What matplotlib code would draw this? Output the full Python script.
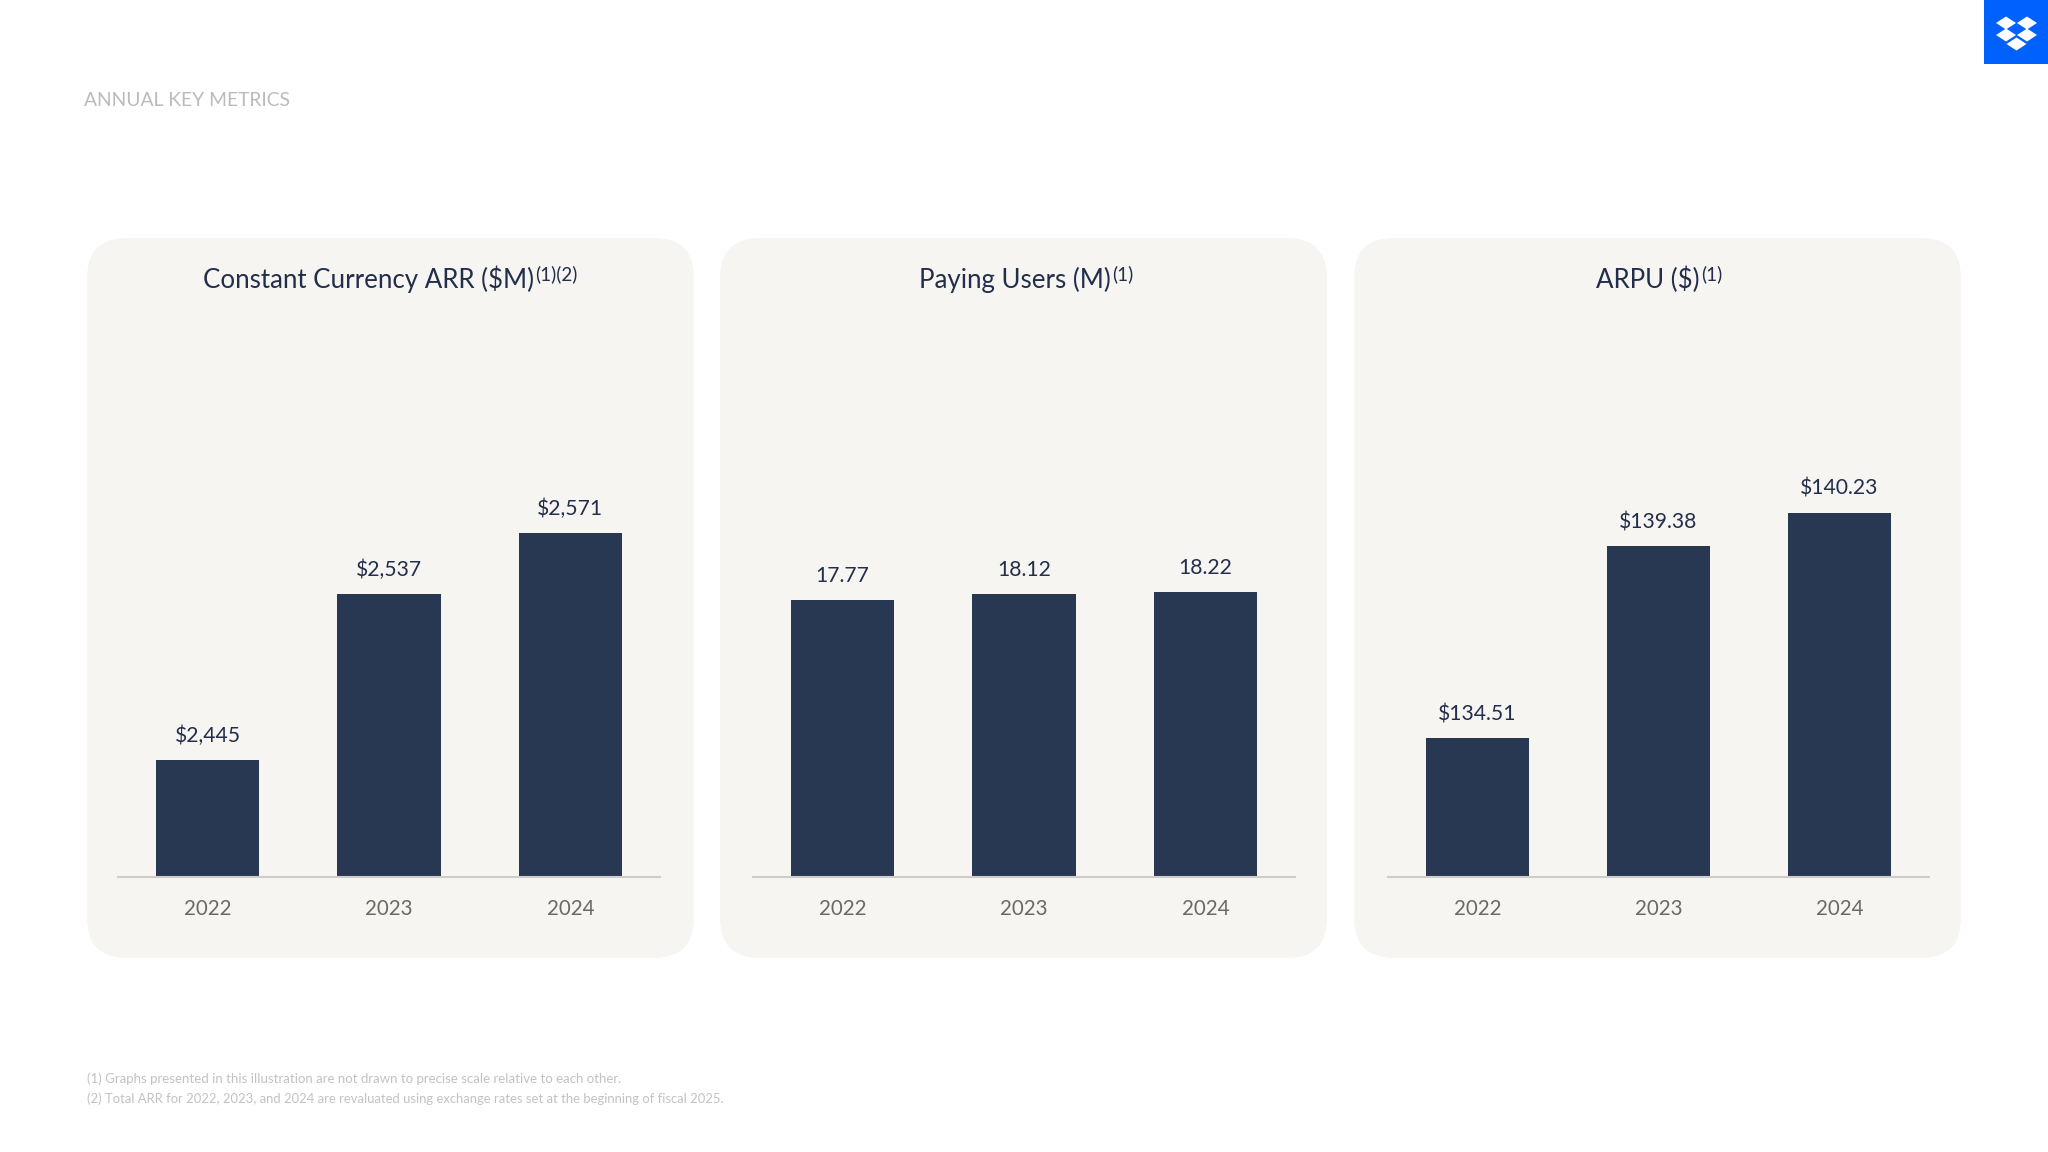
import matplotlib
matplotlib.use("Agg")
import matplotlib.pyplot as plt
from matplotlib.patches import FancyBboxPatch, Rectangle, Polygon

plt.rcParams['font.family'] = ['Lato', 'DejaVu Sans']

years = ["2022", "2023", "2024"]
arr = [2445, 2537, 2571]
users = [17.77, 18.12, 18.22]
arpu = [134.51, 139.38, 140.23]

arr_labels = ["$2,445", "$2,537", "$2,571"]
users_labels = ["17.77", "18.12", "18.22"]
arpu_labels = ["$134.51", "$139.38", "$140.23"]

W, H = 2048, 1152
NAVY = "#293852"
PANEL = "#F6F5F2"
TITLE = "#222E4A"
GREY = "#6B6964"

fig = plt.figure(figsize=(W / 100, H / 100), dpi=100, facecolor="white")

# overlay in pixel coordinates for cards, logo and loose text
bg = fig.add_axes([0, 0, 1, 1])
bg.set_xlim(0, W)
bg.set_ylim(H, 0)
bg.axis("off")

bg.text(84, 100, "ANNUAL KEY METRICS", color="#BDBBB8", fontsize=13.9, va="center")

bg.add_patch(Rectangle((1984, 0), 64, 64, color="#0061FE", lw=0))
for cx, cy in [(2006, 23), (2027, 23), (2006, 35), (2027, 35), (2016.5, 44)]:
    bg.add_patch(Polygon([(cx - 10, cy), (cx, cy - 6.5), (cx + 10, cy), (cx, cy + 6.5)],
                         color="white", lw=0))

bg.text(87, 1079, "(1) Graphs presented in this illustration are not drawn to precise scale relative to each other.",
        color="#C2C2C2", fontsize=9.53, va="center")
bg.text(87, 1099, "(2) Total ARR for 2022, 2023, and 2024 are revaluated using exchange rates set at the beginning of fiscal 2025.",
        color="#C2C2C2", fontsize=9.35, va="center")


def card(left, axis_left, axis_width, title, sup, title_end, values, labels, ylim):
    bg.add_patch(FancyBboxPatch((left + 40, 278), 607 - 80, 720 - 80,
                                boxstyle="round,pad=40,rounding_size=40",
                                fc=PANEL, ec="none"))
    bg.text(title_end, 288, title, color=TITLE, fontsize=18.6, ha="right", va="baseline")
    bg.text(title_end + 1, 280, sup, color=TITLE, fontsize=13.5, ha="left", va="baseline")

    ax = fig.add_axes([axis_left / W, (H - 877) / H, axis_width / W, 600 / H])
    ax.patch.set_alpha(0)
    bars = ax.bar(years, values, width=0.57, color=NAVY)
    ax.bar_label(bars, labels=labels, padding=10, fontsize=15.2, color=TITLE)
    ax.set_xlim(-0.5, 2.5)
    ax.set_ylim(*ylim)
    ax.set_yticks([])
    for side in ["top", "left", "right"]:
        ax.spines[side].set_visible(False)
    ax.spines["bottom"].set_color("#CFCDC9")
    ax.spines["bottom"].set_linewidth(1.5)
    ax.spines["bottom"].set_capstyle("butt")
    ax.tick_params(axis="x", length=0, pad=16, labelsize=14.8, labelcolor=GREY)


card(87, 117, 544, "Constant Currency ARR ($M)", "(1)(2)", 534, arr, arr_labels, (2380, 2713))
card(720, 752, 544, "Paying Users (M)", "(1)", 1111, users, users_labels, (2.2, 35.9))
card(1354, 1387, 543, "ARPU ($)", "(1)", 1700, arpu, arpu_labels, (131, 146.2))

fig.savefig("out.png", dpi=100)
